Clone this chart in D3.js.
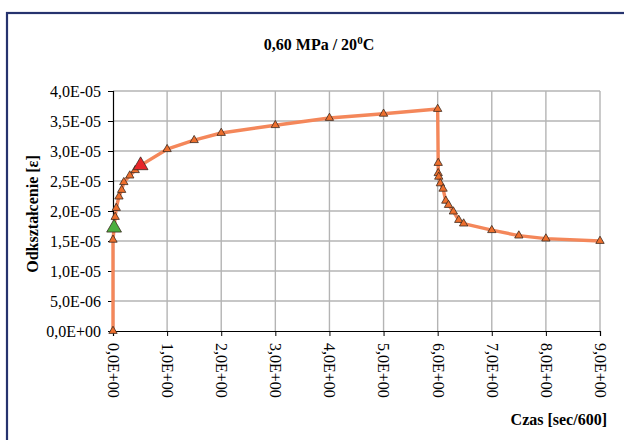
<!DOCTYPE html>
<html>
<head>
<meta charset="utf-8">
<script src="https://cdn.jsdelivr.net/npm/d3@7/dist/d3.min.js"></script>
<style>
  html, body { margin: 0; padding: 0; background: #fff; }
  svg { display: block; }
  text { font-family: "Liberation Serif", "Times New Roman", serif; fill: #000; }
</style>
</head>
<body>
<svg id="chart" width="624" height="440"></svg>
<script>
// Creep / recovery measurement: time [sec/600] and strain values
const times = [0, 0, 0.02, 0.04, 0.06, 0.11, 0.16, 0.20, 0.31, 0.41, 0.51,
               1.0, 1.5, 2.0, 3.0, 4.0, 5.0, 6.0,
               6.01, 6.01, 6.02, 6.05, 6.10, 6.15, 6.20, 6.29, 6.39, 6.48,
               7.0, 7.5, 8.0, 9.0];
const strain = [0, 1.52e-5, 1.72e-5, 1.90e-5, 2.05e-5, 2.24e-5, 2.35e-5, 2.48e-5, 2.59e-5, 2.68e-5, 2.76e-5,
                3.03e-5, 3.18e-5, 3.30e-5, 3.43e-5, 3.55e-5, 3.62e-5, 3.70e-5,
                2.80e-5, 2.63e-5, 2.57e-5, 2.46e-5, 2.37e-5, 2.17e-5, 2.10e-5, 1.99e-5, 1.85e-5, 1.79e-5,
                1.68e-5, 1.59e-5, 1.54e-5, 1.50e-5];
// Points highlighted with larger markers
const highlightIndex = [2, 10];
const highlightColor = ["#4caf3f", "#e8262a"];

const xTicks = [0, 1, 2, 3, 4, 5, 6, 7, 8, 9];
const yTicks = [0, 5e-6, 1e-5, 1.5e-5, 2e-5, 2.5e-5, 3e-5, 3.5e-5, 4e-5];

const titleText = "0,60 MPa / 20";
const xTitle = "Czas [sec/600]";
const yTitle = "Odkształcenie [ε]";

const data = times.map((t, i) => ({ t, v: strain[i], i }));

const svg = d3.select("#chart");

// outer frame (partly beyond the page edge)
svg.append("rect")
  .attr("x", 7).attr("y", 13)
  .attr("width", 640).attr("height", 450)
  .attr("fill", "none")
  .attr("stroke", "#26336e")
  .attr("stroke-width", 2.2);

const x = d3.scaleLinear().domain([0, 9]).range([113, 600]);
const y = d3.scaleLinear().domain([0, 4e-5]).range([331, 91]);

// "4,0E-05" style number format
function sci(v) {
  const s = v.toExponential(1);
  let [m, e] = s.split("e");
  const sign = e[0] === "-" ? "-" : "+";
  let digits = e.replace(/[+-]/, "");
  if (digits.length < 2) digits = "0" + digits;
  return m.replace(".", ",") + "E" + sign + digits;
}

// grid
const grid = svg.append("g");
grid.selectAll("line.h").data(yTicks.slice(1)).join("line")
  .attr("x1", x(0)).attr("x2", x(9))
  .attr("y1", d => y(d)).attr("y2", d => y(d))
  .attr("stroke", "#b4b4b4").attr("stroke-width", 1.4);
grid.selectAll("line.v").data(xTicks.slice(1)).join("line")
  .attr("x1", d => x(d)).attr("x2", d => x(d))
  .attr("y1", y(0)).attr("y2", y(4e-5))
  .attr("stroke", "#b4b4b4").attr("stroke-width", 1.4);

// axes
const yAxis = svg.append("g")
  .attr("transform", `translate(${x(0)},0)`)
  .call(d3.axisLeft(y).tickValues(yTicks).tickFormat(sci).tickSize(5).tickPadding(7));
const xAxis = svg.append("g")
  .attr("transform", `translate(0,${y(0)})`)
  .call(d3.axisBottom(x).tickValues(xTicks).tickFormat(sci).tickSize(5).tickPadding(6));

[yAxis, xAxis].forEach(g => {
  g.select(".domain").attr("stroke", "#000").attr("stroke-width", 1.2);
  g.selectAll(".tick line").attr("stroke", "#000").attr("stroke-width", 1);
  g.selectAll("text").style("font-family", "Liberation Serif").style("font-size", "16px").attr("fill", "#000");
});

xAxis.selectAll(".tick text")
  .attr("transform", "rotate(90)")
  .attr("x", 12).attr("y", 0).attr("dy", "0.35em")
  .attr("text-anchor", "start");

// series line
const line = d3.line().x(d => x(d.t)).y(d => y(d.v));
svg.append("path")
  .datum(data)
  .attr("d", line)
  .attr("fill", "none")
  .attr("stroke", "#f4875a")
  .attr("stroke-width", 3.4)
  .attr("stroke-linejoin", "round");

// markers
const small = d3.symbol().type(d3.symbolTriangle).size(30);
const big = d3.symbol().type(d3.symbolTriangle).size(95);
svg.append("g").selectAll("path")
  .data(data.filter(d => !highlightIndex.includes(d.i)))
  .join("path")
  .attr("d", small)
  .attr("transform", d => `translate(${x(d.t)},${y(d.v)})`)
  .attr("fill", "#ee6f2d")
  .attr("stroke", "#3a2a20")
  .attr("stroke-width", 0.8);
svg.append("g").selectAll("path")
  .data(data.filter(d => highlightIndex.includes(d.i)))
  .join("path")
  .attr("d", big)
  .attr("transform", d => `translate(${x(d.t)},${y(d.v)})`)
  .attr("fill", d => highlightColor[highlightIndex.indexOf(d.i)])
  .attr("stroke", "#3a2a20")
  .attr("stroke-width", 0.8);

// title
const title = svg.append("text")
  .attr("x", 319).attr("y", 50)
  .attr("text-anchor", "middle")
  .style("font-size", "16px").style("font-weight", "bold");
title.append("tspan").text(titleText);
title.append("tspan").attr("dy", -6).style("font-size", "11px").text("0");
title.append("tspan").attr("dy", 6).text("C");

// axis titles
svg.append("text")
  .attr("x", 607).attr("y", 425)
  .attr("text-anchor", "end")
  .style("font-size", "16px").style("font-weight", "bold")
  .text(xTitle);

svg.append("text")
  .attr("transform", "translate(38,214) rotate(-90)")
  .attr("text-anchor", "middle")
  .style("font-size", "16px").style("font-weight", "bold")
  .text(yTitle);
</script>
</body>
</html>
